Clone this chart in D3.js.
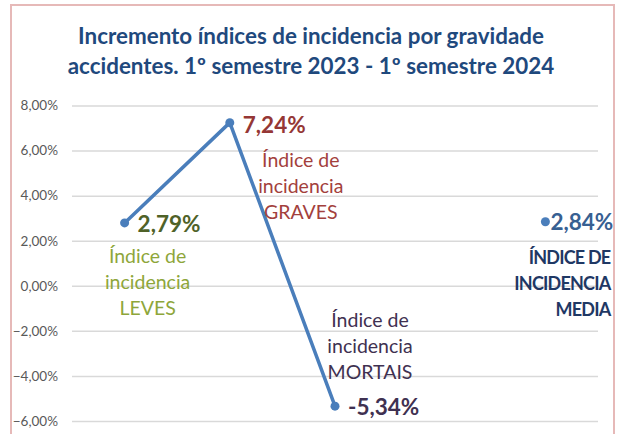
<!DOCTYPE html>
<html>
<head>
<meta charset="utf-8">
<script src="https://cdn.jsdelivr.net/npm/d3@7"></script>
<style>
  body { margin: 0; background: #fff; }
  svg text { font-family: "Lato", "Open Sans", sans-serif; }
</style>
</head>
<body>
<svg width="622" height="434"></svg>
<script>
// data
var categories = ["LEVES", "GRAVES", "MORTAIS", "", "MEDIA"];
var values = [2.79, 7.24, -5.34, null, 2.84];
var valueLabels = ["2,79%", "7,24%", "-5,34%", "", "2,84%"];
var nameLines = [
    ["Índice de", "incidencia", "LEVES"],
    ["Índice de", "incidencia", "GRAVES"],
    ["Índice de", "incidencia", "MORTAIS"],
    [],
    ["ÍNDICE DE", "INCIDENCIA", "MEDIA"]
];
var yTicks = [-6, -4, -2, 0, 2, 4, 6, 8];
var titleLines = ["Incremento índices de incidencia por gravidade",
                  "accidentes. 1º semestre 2023 - 1º semestre 2024"];

// styles
var valueColors = ["#4F6228", "#953735", "#3F3151", null, "#376092"];
var nameColors = ["#8EA63A", "#A3403C", "#3F3151", null, "#1F3864"];

// label placement relative to each point
var labelPos = [
    {vx: 13, vy: 9, nx: 23, ny: 40, anchor: "middle"},
    {vx: 13, vy: 10, nx: 71, ny: 44, anchor: "middle"},
    {vx: 13, vy: 9, nx: 35, ny: -79, anchor: "middle"},
    null,
    {vx: 5, vy: 8, nx: 65, ny: 42, anchor: "end"}
];

var svg = d3.select('svg');

var plot = {l: 72, r: 598, t: 105.5, b: 421};

// outer border
svg.append('rect')
    .attr('x', 11).attr('y', 5)
    .attr('width', 603).attr('height', 440)
    .attr('fill', '#fff')
    .attr('stroke', '#E6B9B8')
    .attr('stroke-width', 2);

// title
svg.append('g').selectAll('text')
    .data(titleLines)
    .enter().append('text')
    .attr('x', 311)
    .attr('y', function (d, i) { return 44 + i * 30; })
    .attr('text-anchor', 'middle')
    .attr('font-size', '22.4px')
    .attr('font-weight', 'bold')
    .attr('fill', '#1F497D')
    .text(function (d) { return d; });

var x = d3.scalePoint()
    .domain(categories.map(function (d, i) { return i; }))
    .range([plot.l, plot.r])
    .padding(0.5);

var y = d3.scaleLinear()
    .domain([-6, 8])
    .range([plot.b, plot.t]);

var locale = d3.formatLocale({decimal: ",", thousands: ".", grouping: [3], currency: ["", "€"]});
var fmt = locale.format(".2f");

// gridlines + y labels
var yAxis = d3.axisLeft(y)
    .tickValues(yTicks)
    .tickSize(-(plot.r - plot.l))
    .tickPadding(14)
    .tickFormat(function (d) { return fmt(d) + "%"; });

var gy = svg.append('g')
    .attr('transform', 'translate(' + plot.l + ',0)')
    .call(yAxis);
gy.select('.domain').remove();
gy.selectAll('.tick line').attr('stroke', '#D9D9D9').attr('stroke-width', 1.5);
gy.selectAll('.tick text')
    .attr('fill', '#595959')
    .attr('font-size', '13.5px')
    .attr('font-family', 'Lato, sans-serif');

// line
var pts = values.map(function (v, i) { return {i: i, v: v}; });
var line = d3.line()
    .defined(function (d) { return d.v !== null; })
    .x(function (d) { return x(d.i); })
    .y(function (d) { return y(d.v); });

svg.append('path')
    .datum(pts)
    .attr('d', line)
    .attr('fill', 'none')
    .attr('stroke', '#4A7EBB')
    .attr('stroke-width', 3.5)
    .attr('stroke-linejoin', 'round');

svg.selectAll('circle.pt')
    .data(pts.filter(function (d) { return d.v !== null; }))
    .enter().append('circle')
    .attr('class', 'pt')
    .attr('cx', function (d) { return x(d.i); })
    .attr('cy', function (d) { return y(d.v); })
    .attr('r', 4.5)
    .attr('fill', '#4A7EBB');

// labels
var lab = svg.selectAll('g.lab')
    .data(pts.filter(function (d) { return d.v !== null; }))
    .enter().append('g')
    .attr('class', 'lab')
    .attr('transform', function (d) { return 'translate(' + x(d.i) + ',' + y(d.v) + ')'; });

lab.append('text')
    .attr('x', function (d) { return labelPos[d.i].vx; })
    .attr('y', function (d) { return labelPos[d.i].vy; })
    .attr('font-size', '22.5px')
    .attr('font-weight', 'bold')
    .attr('fill', function (d) { return valueColors[d.i]; })
    .text(function (d) { return valueLabels[d.i]; });

lab.each(function (d) {
    var p = labelPos[d.i];
    var caps = d.i === 4;
    d3.select(this).selectAll('text.name')
        .data(nameLines[d.i])
        .enter().append('text')
        .attr('class', 'name')
        .attr('x', p.nx)
        .attr('y', function (t, k) { return p.ny + k * 26; })
        .attr('text-anchor', p.anchor)
        .attr('font-size', caps ? '18px' : '19.5px')
        .attr('letter-spacing', caps ? '-0.8px' : null)
        .attr('font-weight', caps ? 'bold' : 'normal')
        .attr('fill', nameColors[d.i])
        .text(function (t) { return t; });
});
</script>
</body>
</html>
